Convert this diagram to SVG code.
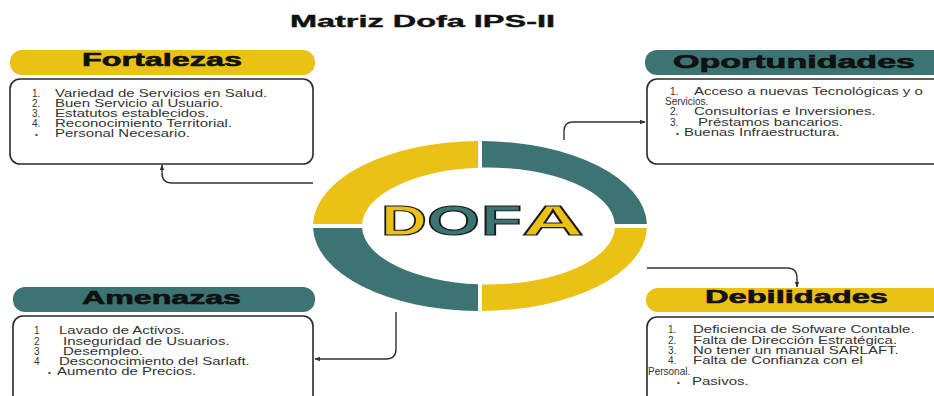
<svg xmlns="http://www.w3.org/2000/svg" width="934" height="396" viewBox="0 0 934 396">
<defs>
<style>
.yel{fill:#EBC116}
.teal{fill:#3B7472}
.box{fill:#fff;stroke:#2a2a2a;stroke-width:1.6}
.hd{font-family:"Liberation Sans",Arial,sans-serif;font-weight:bold;font-size:18px;fill:#111;stroke:#111;stroke-width:0.6}
.tt{font-family:"Liberation Sans",Arial,sans-serif;font-weight:bold;font-size:17px;fill:#111;stroke:#111;stroke-width:0.4}
.li{font-family:"Liberation Sans",Arial,sans-serif;font-size:10px;fill:#333}
.bu{font-family:"Liberation Sans",Arial,sans-serif;font-size:8px;fill:#333}
.con{fill:none;stroke:#333;stroke-width:1.4}
.dofa{font-family:"Liberation Sans",Arial,sans-serif;font-weight:bold;font-size:42px;stroke:#1a1a1a;stroke-width:1.2}
</style>
<marker id="ah" viewBox="0 0 10 10" refX="9" refY="5" markerWidth="6" markerHeight="6" orient="auto" markerUnits="userSpaceOnUse">
<path d="M0,1 L10,5 L0,9 Z" fill="#333"/>
</marker>
</defs>
<rect width="934" height="396" fill="#fff"/>
<text class="tt" x="290" y="27" textLength="265" lengthAdjust="spacingAndGlyphs">Matriz Dofa IPS-II</text>

<g id="ring">
<path class="yel" d="M313.05 224 A167 85 0 0 1 478 141 L478 167.7 A126.5 58.5 0 0 0 362.07 224 Z"/>
<path class="teal" d="M482 141 A167 85 0 0 1 646.95 224 L614.93 224 A126.5 58.5 0 0 0 482 167.6 Z"/>
<path class="yel" d="M646.95 228 A167 85 0 0 1 482 311 L482 284.4 A126.5 58.5 0 0 0 614.93 228 Z"/>
<path class="teal" d="M478 311 A167 85 0 0 1 313.05 228 L362.07 228 A126.5 58.5 0 0 0 478 284.3 Z"/>
<text class="dofa" x="381" y="235" textLength="46" lengthAdjust="spacingAndGlyphs" fill="#EBC116">D</text>
<text class="dofa" x="427" y="235" textLength="53" lengthAdjust="spacingAndGlyphs" fill="#3B7472">O</text>
<text class="dofa" x="481" y="235" textLength="41" lengthAdjust="spacingAndGlyphs" fill="#3B7472">F</text>
<text class="dofa" x="522" y="235" textLength="62" lengthAdjust="spacingAndGlyphs" fill="#EBC116">A</text>
</g>

<g id="fortalezas">
<rect class="yel" x="10" y="50" width="305" height="25" rx="12"/>
<text class="hd" x="82" y="66" textLength="160" lengthAdjust="spacingAndGlyphs">Fortalezas</text>
<rect class="box" x="10" y="79" width="303" height="85" rx="10"/>
<text class="li" x="32" y="97">1.</text><text class="li" transform="translate(55 97) scale(1.5 1)">Variedad de Servicios en Salud.</text>
<text class="li" x="32" y="107">2.</text><text class="li" transform="translate(55 107) scale(1.5 1)">Buen Servicio al Usuario.</text>
<text class="li" x="32" y="117">3.</text><text class="li" transform="translate(55 117) scale(1.5 1)">Estatutos establecidos.</text>
<text class="li" x="32" y="127">4.</text><text class="li" transform="translate(55 127) scale(1.5 1)">Reconocimiento Territorial.</text>
<text class="bu" x="35" y="137">•</text><text class="li" transform="translate(55 137) scale(1.5 1)">Personal Necesario.</text>
</g>

<g id="oportunidades">
<rect class="teal" x="645" y="50" width="305" height="25" rx="12"/>
<text class="hd" x="673" y="68" textLength="242" lengthAdjust="spacingAndGlyphs">Oportunidades</text>
<rect class="box" x="647" y="79" width="300" height="85" rx="10"/>
<text class="li" x="670" y="95">1.</text><text class="li" transform="translate(694 95) scale(1.5 1)">Acceso a nuevas Tecnológicas y o</text>
<text class="li" x="665" y="105">Servicios.</text>
<text class="li" x="670" y="115">2.</text><text class="li" transform="translate(694 115) scale(1.5 1)">Consultorías e Inversiones.</text>
<text class="li" x="670" y="125.5">3.</text><text class="li" transform="translate(698 125.5) scale(1.5 1)">Préstamos bancarios.</text>
<text class="bu" x="676" y="136">•</text><text class="li" transform="translate(684 136) scale(1.5 1)">Buenas Infraestructura.</text>
</g>

<g id="amenazas">
<rect class="teal" x="13" y="287" width="302" height="25" rx="12"/>
<text class="hd" x="82" y="304" textLength="159" lengthAdjust="spacingAndGlyphs">Amenazas</text>
<rect class="box" x="13" y="316" width="300" height="100" rx="10"/>
<text class="li" x="34" y="334">1</text><text class="li" transform="translate(59 334) scale(1.5 1)">Lavado de Activos.</text>
<text class="li" x="34" y="345">2</text><text class="li" transform="translate(63 345) scale(1.5 1)">Inseguridad de Usuarios.</text>
<text class="li" x="34" y="355">3</text><text class="li" transform="translate(63 355) scale(1.5 1)">Desempleo.</text>
<text class="li" x="34" y="365">4</text><text class="li" transform="translate(59 365) scale(1.5 1)">Desconocimiento del Sarlaft.</text>
<text class="bu" x="48" y="375">•</text><text class="li" transform="translate(57 375) scale(1.5 1)">Aumento de Precios.</text>
</g>

<g id="debilidades">
<rect class="yel" x="646" y="288" width="305" height="24" rx="12"/>
<text class="hd" x="705" y="303" textLength="183" lengthAdjust="spacingAndGlyphs">Debilidades</text>
<rect class="box" x="647" y="317" width="300" height="100" rx="10"/>
<text class="li" x="668" y="333">1.</text><text class="li" transform="translate(693 333) scale(1.5 1)">Deficiencia de Sofware Contable.</text>
<text class="li" x="668" y="343.5">2.</text><text class="li" transform="translate(693 343.5) scale(1.5 1)">Falta de Dirección Estratégica.</text>
<text class="li" x="668" y="354">3.</text><text class="li" transform="translate(693 354) scale(1.5 1)">No tener un manual SARLAFT.</text>
<text class="li" x="668" y="364">4.</text><text class="li" transform="translate(693 364) scale(1.5 1)">Falta de Confianza con el</text>
<text class="li" x="648" y="374.5">Personal.</text>
<text class="bu" x="677" y="385">•</text><text class="li" transform="translate(692 385) scale(1.5 1)">Pasivos.</text>
</g>

<g id="connectors">
<path class="con" marker-end="url(#ah)" d="M313 183 H172 Q162 183 162 173 V165"/>
<path class="con" marker-end="url(#ah)" d="M564 140 V131 Q564 122 573 122 H645"/>
<path class="con" marker-end="url(#ah)" d="M647 268 H787 Q797 268 797 278 V287"/>
<path class="con" marker-end="url(#ah)" d="M396 312 V349 Q396 359 386 359 H315"/>
</g>
</svg>
